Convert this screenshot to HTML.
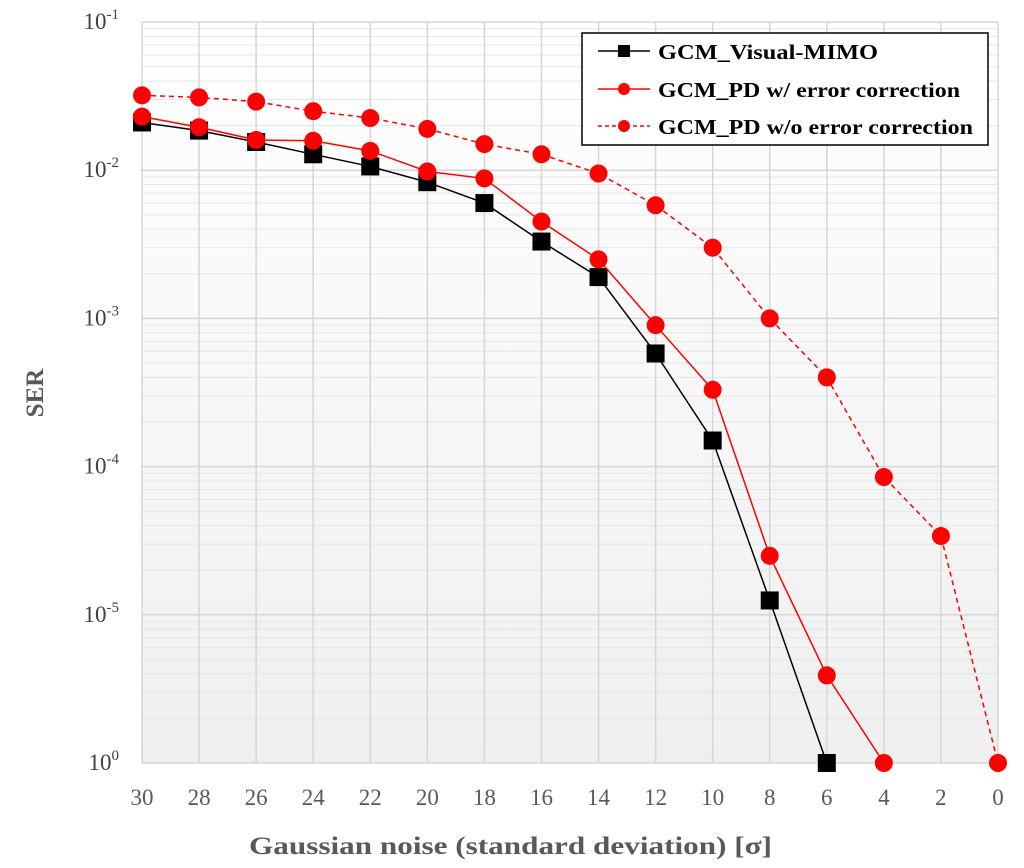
<!DOCTYPE html>
<html><head><meta charset="utf-8"><style>
body{margin:0;background:#fff}
svg{display:block}
text{font-family:"Liberation Serif",serif}
</style></head><body>
<svg id="chart" width="1024" height="868" viewBox="0 0 1024 868" xmlns="http://www.w3.org/2000/svg">
<defs>
<linearGradient id="bg" x1="0" y1="0" x2="0" y2="1">
<stop offset="0" stop-color="#ffffff"/><stop offset="1" stop-color="#efefef"/>
</linearGradient>
</defs>
<rect x="142" y="22" width="856" height="741" fill="url(#bg)"/>
<g id="grid"></g>
<g id="series"></g>
<g id="ticks"></g>
<text x="249" y="854" textLength="523" lengthAdjust="spacingAndGlyphs" font-size="25" font-weight="bold" fill="#595959">Gaussian noise (standard deviation) [σ]</text>
<text transform="translate(43,393) rotate(-90)" text-anchor="middle" font-size="25" font-weight="bold" fill="#595959">SER</text>
<g>
<rect x="582" y="33" width="406" height="112" fill="#fff" stroke="#000" stroke-width="1.5"/>
<g>
<line x1="598" y1="51" x2="650" y2="51" stroke="#000" stroke-width="1.5"/><rect x="618" y="45" width="12" height="12" fill="#000"/>
<text x="658" y="59" font-size="21" font-weight="bold" textLength="220" lengthAdjust="spacingAndGlyphs">GCM_Visual-MIMO</text></g>
<g>
<line x1="598" y1="89" x2="650" y2="89" stroke="#f00" stroke-width="1.5"/><circle cx="624" cy="89" r="6" fill="#f00"/>
<text x="658" y="97" font-size="21" font-weight="bold" textLength="302" lengthAdjust="spacingAndGlyphs">GCM_PD w/ error correction</text></g>
<g>
<line x1="598" y1="126" x2="650" y2="126" stroke="#f00" stroke-width="1.5" stroke-dasharray="4,3"/><circle cx="624" cy="126" r="6" fill="#f00"/>
<text x="658" y="134" font-size="21" font-weight="bold" textLength="315" lengthAdjust="spacingAndGlyphs">GCM_PD w/o error correction</text></g>
</g>
</svg>
<script>
const xCats = [30,28,26,24,22,20,18,16,14,12,10,8,6,4,2,0];
const yTickExp = [-1,-2,-3,-4,-5,-6];
const yTickLabels = ["-1","-2","-3","-4","-5","0"];
const visualMimo = [0.021,0.0185,0.0155,0.0128,0.0106,0.0083,0.006,0.0033,0.0019,0.00058,0.00015,1.25e-5,1e-6];
const pdWithEC = [0.023,0.0195,0.016,0.0158,0.0135,0.0098,0.0088,0.0045,0.0025,0.0009,0.00033,2.5e-5,3.9e-6,1e-6];
const pdWithoutEC = [0.032,0.031,0.029,0.025,0.0225,0.019,0.015,0.0128,0.0095,0.0058,0.003,0.001,0.0004,8.5e-5,3.4e-5,1e-6];

const NS="http://www.w3.org/2000/svg";
const L=142,R=998,T=22,B=763;
const xs=v=>L+(30-v)/30*(R-L);
const ys=v=>T+(-1-Math.log10(v))/5*(B-T);
function mk(tag,attrs,parent){const e=document.createElementNS(NS,tag);for(const k in attrs)e.setAttribute(k,attrs[k]);parent.appendChild(e);return e;}
const grid=document.getElementById('grid'),ser=document.getElementById('series'),ticks=document.getElementById('ticks');
for(let d=-6;d<-1;d++){for(let m=2;m<=9;m++){const y=ys(m*Math.pow(10,d));
const g=mk('line',{x1:L,x2:R,y1:y,y2:y,stroke:'#e6e6e6','stroke-width':1},grid);

}}
yTickExp.forEach((e,i)=>{const y=ys(Math.pow(10,e));
const g=mk('line',{x1:L,x2:R,y1:y,y2:y,stroke:'#d6d6d6','stroke-width':1.5},grid);


const t=mk('text',{x:119,y:y+7,'text-anchor':'end','font-size':23,fill:'#404040'},ticks);


t.textContent='10';
const s=mk('tspan',{'font-size':15,dy:-10},t);s.textContent=yTickLabels[i];});
xCats.forEach(c=>{const x=xs(c);
const g=mk('line',{x1:x,x2:x,y1:T,y2:B,stroke:'#d6d6d6','stroke-width':1.5},grid);


const t=mk('text',{x:x,y:805,'text-anchor':'middle','font-size':23,fill:'#595959'},ticks);


t.textContent=c;});
function draw(vals,color,dash,marker,name){
const pts=vals.map((v,i)=>[xs(xCats[i]),ys(v)]);
const p=mk('polyline',{points:pts.map(p=>p.join(',')).join(' '),fill:'none',stroke:color,'stroke-width':1.5,'stroke-dasharray':dash||'none'},ser);


pts.forEach(([x,y])=>{let m;
if(marker==='sq')m=mk('rect',{x:x-9,y:y-9,width:18,height:18,fill:color},ser);
else m=mk('circle',{cx:x,cy:y,r:9,fill:color},ser);

});}
draw(pdWithoutEC,'#f00','5,4','c','pd-without-ec');
draw(visualMimo,'#000',null,'sq','visual-mimo');
draw(pdWithEC,'#f00',null,'c','pd-with-ec');
</script>
</body></html>
